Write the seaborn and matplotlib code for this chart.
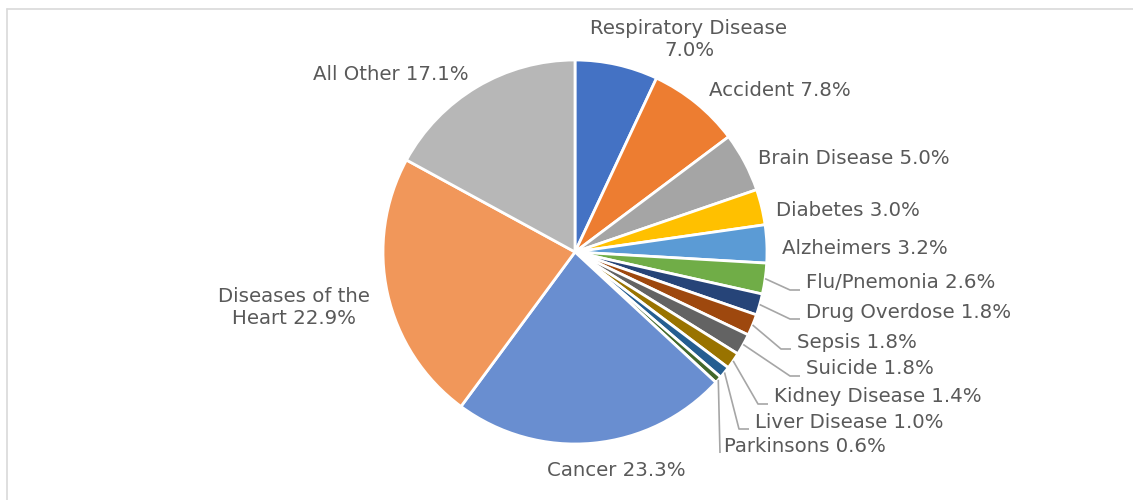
import numpy as np
import matplotlib
matplotlib.use('Agg')
import matplotlib.pyplot as plt
from matplotlib.lines import Line2D
import seaborn as sns

# data
causes = ['Respiratory Disease', 'Accident', 'Brain Disease', 'Diabetes', 'Alzheimers',
          'Flu/Pnemonia', 'Drug Overdose', 'Sepsis', 'Suicide', 'Kidney Disease',
          'Liver Disease', 'Parkinsons', 'Cancer', 'Diseases of the Heart', 'All Other']
shares = [7.0, 7.8, 5.0, 3.0, 3.2, 2.6, 1.8, 1.8, 1.8, 1.4, 1.0, 0.6, 23.3, 22.9, 17.1]
colors = ['#4472C4', '#ED7D31', '#A5A5A5', '#FFC000', '#5B9BD5', '#70AD47', '#264478',
          '#9E480E', '#636363', '#997300', '#255E91', '#43682B', '#698ED0', '#F1975A',
          '#B7B7B7']

W, H = 1133, 500
CX, CY, R = 575, 252, 192
TEXT = '#595959'
LEADER = '#A6A6A6'
FS = 14.2

# label layout in pixel coords (x, y, ha, text); y is text centre
plain_labels = {
    'Respiratory Disease': (689, 40, 'center', 'Respiratory Disease\n7.0%'),
    'Accident': (709, 90, 'left', None),
    'Brain Disease': (758, 158, 'left', None),
    'Diabetes': (776, 210, 'left', None),
    'Alzheimers': (782, 248, 'left', None),
    'Cancer': (616, 470, 'center', None),
    'Diseases of the Heart': (294, 308, 'center', 'Diseases of the\nHeart 22.9%'),
    'All Other': (391, 75, 'center', None),
}
leader_labels = {
    'Flu/Pnemonia': (806, 283),
    'Drug Overdose': (806, 312),
    'Sepsis': (797, 342),
    'Suicide': (806, 369),
    'Kidney Disease': (774, 397),
    'Liver Disease': (755, 422),
    'Parkinsons': (724, 446),
}


def px(x, y):
    return x, H - y


sns.set_theme(style='white')
plt.rcParams['font.family'] = ['DejaVu Sans']

fig = plt.figure(figsize=(W / 100, H / 100), dpi=100)
ax = fig.add_axes([0, 0, 1, 1])

ax.pie(shares, colors=colors, startangle=90, counterclock=False,
       center=px(CX, CY), radius=R,
       wedgeprops=dict(edgecolor='white', linewidth=2.0))
# pie resets the limits, so set the pixel frame afterwards
ax.set_xlim(0, W)
ax.set_ylim(0, H)
ax.set_aspect('equal')
ax.axis('off')

# chart border (clipped on right and bottom like the original)
fig.add_artist(Line2D([7 / W, 1], [1 - 9 / H, 1 - 9 / H], color='#D9D9D9', lw=1.2))
fig.add_artist(Line2D([7 / W, 7 / W], [0, 1 - 9 / H], color='#D9D9D9', lw=1.2))

total = sum(shares)
cum = np.cumsum([0] + shares[:-1])
for name, val, start in zip(causes, shares, cum):
    label = f'{name} {val:.1f}%'
    if name in plain_labels:
        x, y, ha, txt = plain_labels[name]
        ax.text(*px(x, y), txt or label, ha=ha, va='center', color=TEXT,
                fontsize=FS, linespacing=1.2)
    else:
        tx, ty = leader_labels[name]
        mid = np.deg2rad(90 - 360 * (start + val / 2) / total)
        sx, sy = CX + R * np.cos(mid), CY - R * np.sin(mid)
        ly = ty + 7
        if name == 'Parkinsons':
            ex, endx = tx - 4, tx - 4
        else:
            ex, endx = tx - 16, tx - 6
        xs = [sx, ex, endx]
        ys = [sy, ly, ly]
        ax.plot(xs, [H - v for v in ys], color=LEADER, lw=1.2, solid_capstyle='butt')
        ax.text(*px(tx, ty), label, ha='left', va='center', color=TEXT, fontsize=FS)

fig.savefig('out.png', dpi=100, facecolor='white')
